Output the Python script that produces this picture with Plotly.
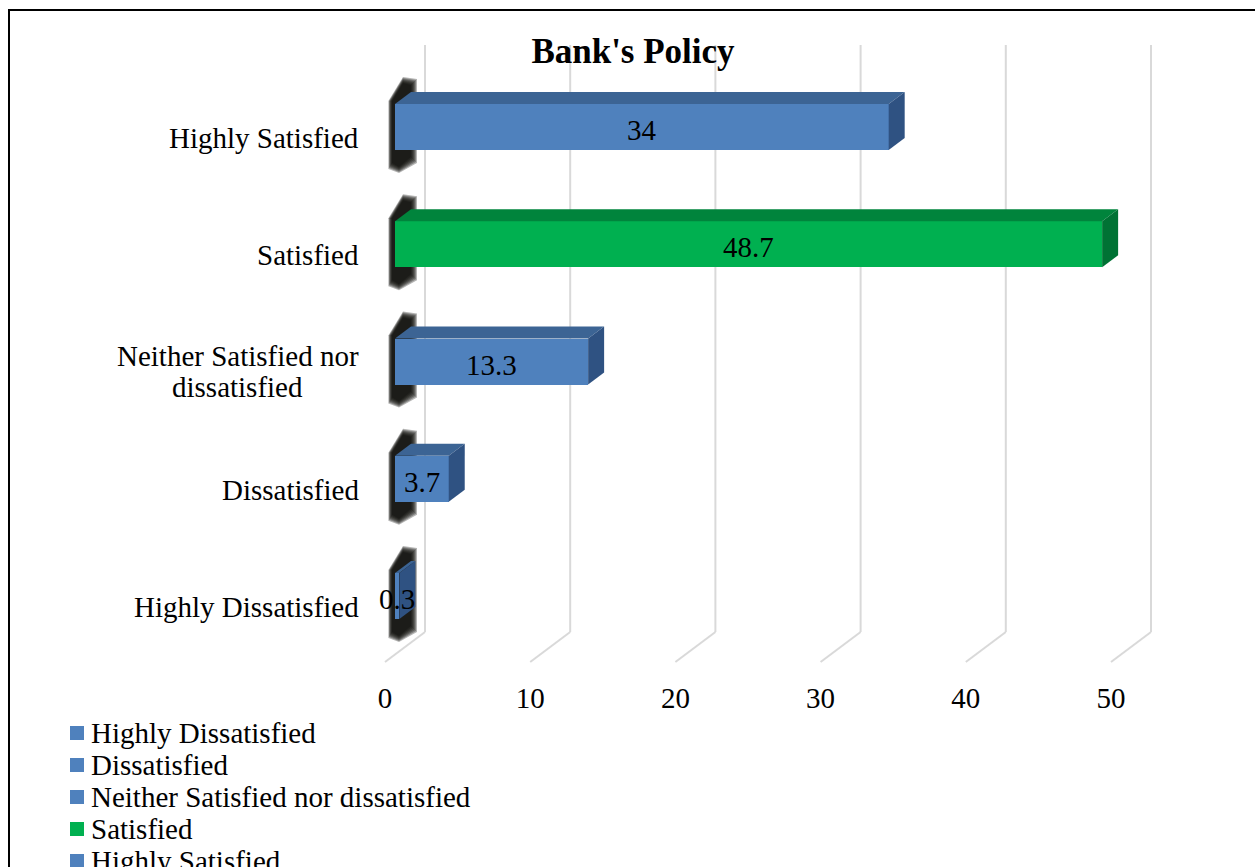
import plotly.graph_objects as go

# ---- data ----
categories = ["Highly Dissatisfied", "Dissatisfied", "Neither Satisfied nor dissatisfied",
              "Satisfied", "Highly Satisfied"]
values = [0.3, 3.7, 13.3, 48.7, 34]
tick_values = [0, 10, 20, 30, 40, 50]
title_text = "Bank's Policy"

BLUE = "#4F81BD"
GREEN = "#00B050"
face_colors = {BLUE: ("#3C6494", "#2F5282"), GREEN: ("#00843C", "#007234")}
bar_colors = [GREEN if c == "Satisfied" else BLUE for c in categories]

W, H = 1255, 867
FONT = "Liberation Serif, Times New Roman, serif"

# pixel geometry (front plane of bars)
KX = 14.52          # px per value unit
X0 = 395            # px of value 0 on the front face
KY = 117.25         # px per category step
Y0 = 596            # px of first category centre
PLOT_BOTTOM = 678   # px of bottom of plot area

x_range = [-X0 / KX, (W - X0) / KX]
y_range = [(Y0 - PLOT_BOTTOM) / KY, Y0 / KY]


def dx(px):
    return px / KX


def dy(px):
    return px / KY


idx = list(range(len(categories)))
BAR_H = 46
half = dy(BAR_H / 2)
DEPTH_X, DEPTH_Y = dx(16), dy(12)

shapes = []

# back-wall gridlines and floor diagonals
wall_off = dx(30)
floor_off = dx(-10)
grid_top = (Y0 - 45) / KY
grid_bot = (Y0 - 632) / KY
floor_bot = (Y0 - 662) / KY
for v in tick_values:
    shapes.append(dict(type="line", xref="x", yref="y", x0=v + wall_off, x1=v + wall_off,
                       y0=grid_bot, y1=grid_top, line=dict(color="#D9D9D9", width=2), layer="below"))
    shapes.append(dict(type="line", xref="x", yref="y", x0=v + wall_off, x1=v + floor_off,
                       y0=grid_bot, y1=floor_bot, line=dict(color="#D9D9D9", width=2), layer="below"))

# soft shadows at the left of each bar (layered to imitate a blur)
for i in idx:
    for grow in [6, 5, 4, 3, 2, 1, 0]:
        pts = [(-3 - grow * 0.6, -26), (8, -44 - grow), (16 + grow, -42 - grow),
               (16 + grow, 30 + grow), (4, 40 + grow), (-3 - grow * 0.6, 36 + grow)]
        path = "M" + " L".join(f"{dx(px)},{i - dy(py)}" for px, py in pts) + " Z"
        shapes.append(dict(type="path", xref="x", yref="y", path=path,
                           fillcolor="rgba(10,10,5,0.3)", line=dict(width=0), layer="below"))

# 3-D top and side faces
for i, v, c in zip(idx, values, bar_colors):
    top_c, side_c = face_colors[c]
    yt = i + half
    yb = i - half
    top = (f"M0,{yt} L{DEPTH_X},{yt + DEPTH_Y} L{v + DEPTH_X},{yt + DEPTH_Y} L{v},{yt} Z")
    side = (f"M{v},{yt} L{v + DEPTH_X},{yt + DEPTH_Y} L{v + DEPTH_X},{yb + DEPTH_Y} L{v},{yb} Z")
    shapes.append(dict(type="path", xref="x", yref="y", path=top, fillcolor=top_c,
                       line=dict(width=0), layer="above"))
    shapes.append(dict(type="path", xref="x", yref="y", path=side, fillcolor=side_c,
                       line=dict(width=0), layer="above"))

# outer border
shapes.append(dict(type="rect", xref="paper", yref="paper", x0=9 / W, x1=1.02,
                   y0=-0.02, y1=1 - 10 / H, line=dict(color="black", width=2),
                   fillcolor="rgba(0,0,0,0)", layer="above"))

annotations = []
# value labels
for i, v in zip(idx, values):
    annotations.append(dict(x=v / 2, y=i - dy(3), xref="x", yref="y", text=f"{v:g}",
                            showarrow=False, xanchor="center", yanchor="middle",
                            font=dict(family=FONT, size=29, color="black")))

# category labels
label_x = dx(361 - X0)
for i, c in zip(idx, categories):
    if c == "Neither Satisfied nor dissatisfied":
        annotations.append(dict(x=label_x, y=i + dy(6), xref="x", yref="y",
                                text="Neither Satisfied nor", showarrow=False,
                                xanchor="right", yanchor="middle",
                                font=dict(family=FONT, size=29, color="black")))
        annotations.append(dict(x=dx(237 - X0), y=i - dy(25), xref="x", yref="y",
                                text="dissatisfied", showarrow=False,
                                xanchor="center", yanchor="middle",
                                font=dict(family=FONT, size=29, color="black")))
    else:
        annotations.append(dict(x=label_x, y=i - dy(11), xref="x", yref="y", text=c,
                                showarrow=False, xanchor="right", yanchor="middle",
                                font=dict(family=FONT, size=29, color="black")))

# custom legend
leg_y0 = 733
for k, (c, col) in enumerate(zip(categories, bar_colors)):
    cy = leg_y0 + 32 * k
    shapes.append(dict(type="rect", xref="paper", yref="paper", x0=70 / W, x1=84 / W,
                       y0=1 - (cy + 7) / H, y1=1 - (cy - 7) / H, fillcolor=col,
                       line=dict(width=0)))
    annotations.append(dict(x=89 / W, y=1 - cy / H, xref="paper", yref="paper", text=c,
                            showarrow=False, xanchor="left", yanchor="middle",
                            font=dict(family=FONT, size=29, color="black")))

fig = go.Figure()
fig.add_trace(go.Bar(x=values, y=idx, orientation="h", width=BAR_H / KY,
                     marker=dict(color=bar_colors, line=dict(width=0)),
                     hoverinfo="x", showlegend=False))
# invisible helper trace for the floor tick axis
fig.add_trace(go.Scatter(x=[tick_values[0], tick_values[-1]], y=[y_range[0]] * 2,
                         xaxis="x2", mode="markers", marker=dict(opacity=0),
                         hoverinfo="skip", showlegend=False))

fig.update_layout(
    width=W, height=H,
    margin=dict(l=0, r=0, t=0, b=0),
    paper_bgcolor="white", plot_bgcolor="rgba(0,0,0,0)",
    title=dict(text=f"<b>{title_text}</b>", x=633 / W, xanchor="center",
               y=1 - 51 / H, yanchor="middle",
               font=dict(family=FONT, size=35, color="black")),
    xaxis=dict(range=x_range, domain=[0, 1], showgrid=False, zeroline=False,
               showticklabels=False, showline=False, fixedrange=True),
    xaxis2=dict(range=[x_range[0] - floor_off, x_range[1] - floor_off], overlaying="x",
                anchor="y", side="bottom", tickvals=tick_values,
                showgrid=False, zeroline=False, showline=False, ticks="",
                tickfont=dict(family=FONT, size=29, color="black")),
    yaxis=dict(range=y_range, domain=[1 - PLOT_BOTTOM / H, 1], showgrid=False,
               zeroline=False, showticklabels=False, showline=False, fixedrange=True),
    shapes=shapes,
    annotations=annotations,
    bargap=0,
)

fig.write_html("out.html")
